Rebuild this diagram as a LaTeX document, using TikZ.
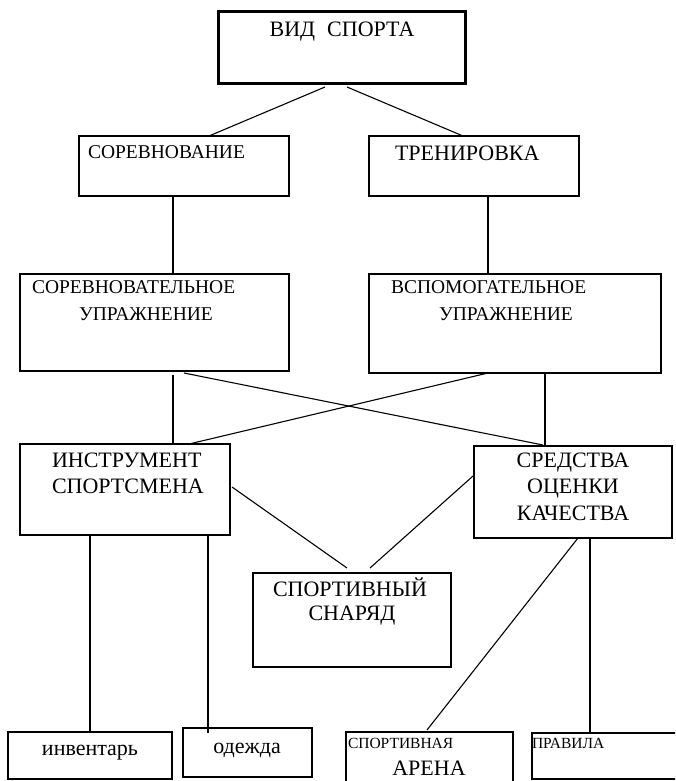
\documentclass[tikz,border=0pt]{standalone}
\usepackage{fontspec}
\setmainfont{Liberation Serif}
\usetikzlibrary{calc}
\newcommand\szbig{\fontsize{22}{26}\selectfont}
\newcommand\szmid{\fontsize{19.5}{23}\selectfont}
\newcommand\szsmall{\fontsize{15.5}{18}\selectfont}
\begin{document}
\begin{tikzpicture}[x=1pt,y=-1pt,
  box/.style={draw=black, line width=1.4pt, inner sep=0pt, outer sep=0pt, anchor=north west},
  topbox/.style={box, line width=3pt},
  conn/.style={draw=black, line width=1.1pt},
  lbl/.style={inner sep=0pt, outer sep=0pt, text=black}]
\useasboundingbox (0,0) rectangle (675,781);
\clip (0,0) rectangle (675,781);
\fill[white] (0,0) rectangle (675,781);

% boxes
\node[topbox, minimum width=247pt, minimum height=72pt] (top) at (218,12) {};
\node[box, minimum width=210pt, minimum height=60pt] (sor) at (79,136) {};
\node[box, minimum width=210pt, minimum height=60pt] (tren) at (369,136) {};
\node[box, minimum width=269pt, minimum height=97pt] (sorupr) at (20,274) {};
\node[box, minimum width=292pt, minimum height=99pt] (vspupr) at (369,274) {};
\node[box, minimum width=210pt, minimum height=91pt] (instr) at (20,444) {};
\node[box, minimum width=198pt, minimum height=92pt] (sredst) at (474,446) {};
\node[box, minimum width=198pt, minimum height=94pt] (snar) at (253,573) {};
\node[box, minimum width=164pt, minimum height=47pt] (inv) at (8,732) {};
\node[box, minimum width=129pt, minimum height=49pt] (odez) at (183,728) {};
\node[box, minimum width=167pt, minimum height=60pt] (arena) at (346,732) {};
\node[box, minimum width=160pt, minimum height=46pt] (prav) at (532,733) {};

% texts
\node[lbl, anchor=base, font=\szbig] (tTop) at (342,37) {ВИД\hspace{0.3em} СПОРТА};
\node[lbl, anchor=base west, font=\szmid] (tSor) at (88,158) {СОРЕВНОВАНИЕ};
\node[lbl, anchor=base west, font=\szbig] (tTren) at (395,160) {ТРЕНИРОВКА};
\node[lbl, anchor=base west, font=\szmid] (tSu1) at (32,293) {СОРЕВНОВАТЕЛЬНОЕ};
\node[lbl, anchor=base west, font=\szmid] (tSu2) at (79,320) {УПРАЖНЕНИЕ};
\node[lbl, anchor=base west, font=\szmid] (tVu1) at (391,293) {ВСПОМОГАТЕЛЬНОЕ};
\node[lbl, anchor=base west, font=\szmid] (tVu2) at (439,320) {УПРАЖНЕНИЕ};
\node[lbl, anchor=base west, font=\szbig] (tIn1) at (52,467) {ИНСТРУМЕНТ};
\node[lbl, anchor=base west, font=\szbig] (tIn2) at (52,493) {СПОРТСМЕНА};
\node[lbl, anchor=base, font=\szbig] (tSr1) at (573,467) {СРЕДСТВА};
\node[lbl, anchor=base, font=\szbig] (tSr2) at (573,493) {ОЦЕНКИ};
\node[lbl, anchor=base, font=\szbig] (tSr3) at (573,520) {КАЧЕСТВА};
\node[lbl, anchor=base west, font=\szbig] (tSn1) at (273,596) {СПОРТИВНЫЙ};
\node[lbl, anchor=base, font=\szbig] (tSn2) at (352,620) {СНАРЯД};
\node[lbl, anchor=base, font=\szbig] (tInv) at (90,755) {инвентарь};
\node[lbl, anchor=base, font=\szbig] (tOd) at (247,753) {одежда};
\node[lbl, anchor=base west, font=\szsmall] (tAr1) at (348,748) {СПОРТИВНАЯ};
\node[lbl, anchor=base, font=\szbig] (tAr2) at (429,775) {АРЕНА};
\node[lbl, anchor=base west, font=\szsmall] (tPr) at (532,748) {ПРАВИЛА};

% connectors
\draw[conn] ($(top.south)+(-16.5,3)$) -- ($(sor.north)+(25,0)$);
\draw[conn] ($(top.south)+(5.5,3)$) -- ($(tren.north)+(-11,0)$);
\draw[conn] ($(sor.south)+(-11,0)$) -- ($(sorupr.north)+(18.5,0)$);
\draw[conn] ($(tren.south)+(14,0)$) -- ($(vspupr.north)+(-27,0)$);
\draw[conn] ($(sorupr.south)+(18.5,4)$) -- ($(instr.north)+(48,0)$);
\draw[conn] ($(sorupr.south)+(29.5,2)$) -- ($(sredst.north)+(-30,-1)$);
\draw[conn] ($(vspupr.south)+(-27,0)$) -- ($(instr.north)+(64,0)$);
\draw[conn] ($(vspupr.south)+(30,0)$) -- ($(sredst.north)+(-28,0)$);
\draw[conn] ($(instr.east)+(2,-2.5)$) -- ($(snar.north)+(-5,-5)$);
\draw[conn] ($(sredst.west)+(-1,-16)$) -- ($(snar.north)+(18,-5)$);
\draw[conn] (instr.south) ++(-35,0) -- (inv.north);
\draw[conn] ($(instr.south)+(83,0)$) -- ($(odez.north)+(-39.5,5)$);
\draw[conn] ($(sredst.south)+(5,0)$) -- ($(arena.north)+(-2.5,-2)$);
\draw[conn] ($(sredst.south)+(17,0)$) -- ($(prav.north)+(-22,0)$);
\end{tikzpicture}
\end{document}
